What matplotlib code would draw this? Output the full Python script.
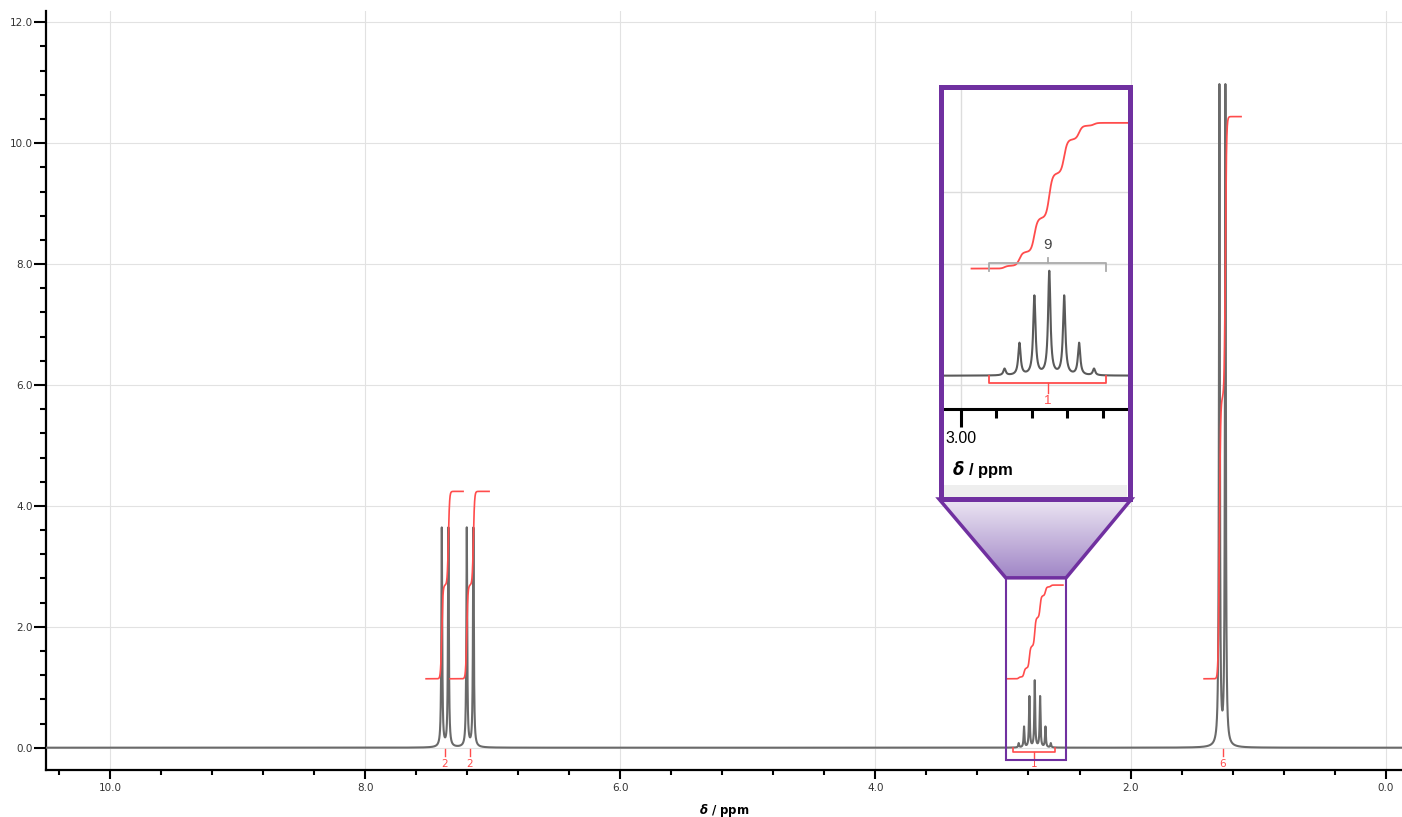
import numpy as np
import matplotlib
matplotlib.use('Agg')
import matplotlib.pyplot as plt
from matplotlib.patches import Rectangle, Polygon
from matplotlib.colors import LinearSegmentedColormap
from matplotlib.ticker import MultipleLocator, FixedLocator, FormatStrFormatter

# peak list: chemical shift (ppm) and height
peak_ppm = [7.401, 7.349, 7.205, 7.153,
            2.877, 2.835, 2.793, 2.751, 2.709, 2.667, 2.625,
            1.303, 1.256]
peak_height = [3.62, 3.62, 3.62, 3.62,
               0.07, 0.34, 0.84, 1.10, 0.84, 0.34, 0.07,
               10.9, 10.9]
line_hwhm = 0.004

# integrals: region (ppm, high -> low), proton count, label position
integral_start = [7.524, 7.336, 2.97, 1.423]
integral_end = [7.234, 7.030, 2.53, 1.133]
integral_nh = [2, 2, 1, 6]
integral_label_ppm = [7.379, 7.183, 2.755, 1.278]
bracket_span = [None, None, (2.921, 2.592), None]
integral_base = 1.14
height_per_h = 1.55
int_width = 0.009

# region shown in the magnified box
zoom_ppm = (2.978, 2.505)
zoom_int = (-0.20, 2.81)

purple = '#7030a0'
red = '#ff4c4c'
W, H = 1402, 817


def spectrum(x):
    y = np.zeros_like(x)
    for p, h in zip(peak_ppm, peak_height):
        y += h * line_hwhm**2 / ((x - p)**2 + line_hwhm**2)
    return y


def integral_curve(start, end, nh):
    # running integral over the region, each line as a smoothed step
    x = np.linspace(start, end, 600)
    f = np.zeros_like(x)
    for p, h in zip(peak_ppm, peak_height):
        if end <= p <= start:
            f += h * 0.5 * (1 + np.tanh((p - x) / int_width))
    f = (f - f[0]) / (f[-1] - f[0])
    return x, integral_base + nh * height_per_h * f


def px_rect(x0, y0, x1, y1):
    # pixel box (y downwards) -> figure fraction
    return [x0 / W, 1 - y1 / H, (x1 - x0) / W, (y1 - y0) / H]


ppm = np.linspace(10.6, -0.2, 80000)
spec = spectrum(ppm)

fig = plt.figure(figsize=(W / 100, H / 100), dpi=100)
ax = fig.add_axes(px_rect(45.7, 11, W, 770))

ax.plot(ppm, spec, color='#6a6a6a', lw=1.5, zorder=3)

for s, e, nh, lp, br in zip(integral_start, integral_end, integral_nh,
                             integral_label_ppm, bracket_span):
    xi, yi = integral_curve(s, e, nh)
    ax.plot(xi, yi, color=red, lw=1.2, zorder=4)
    if br is not None:
        ax.plot([br[0], br[0], br[1], br[1]], [0.0, -0.07, -0.07, 0.0],
                color=red, lw=1.2, zorder=4)
        ax.plot([lp, lp], [-0.07, -0.17], color=red, lw=1.0, zorder=4)
    else:
        ax.plot([lp, lp], [-0.02, -0.13], color=red, lw=1.0, zorder=4)
    ax.text(lp, -0.27, str(nh), ha='center', va='center', fontsize=7.5,
            color=red, zorder=4)

ax.add_patch(Rectangle((zoom_ppm[1], zoom_int[0]), zoom_ppm[0] - zoom_ppm[1],
                       zoom_int[1] - zoom_int[0], fill=False, ec=purple,
                       lw=1.5, zorder=6))

ax.set_xlim(10.507, -0.129)
ax.set_ylim(-0.369, 12.187)
ax.xaxis.set_major_locator(MultipleLocator(2))
ax.xaxis.set_minor_locator(MultipleLocator(0.4))
ax.yaxis.set_major_locator(MultipleLocator(2))
ax.yaxis.set_minor_locator(MultipleLocator(0.4))
ax.xaxis.set_major_formatter(FormatStrFormatter('%.1f'))
ax.yaxis.set_major_formatter(FormatStrFormatter('%.1f'))
ax.tick_params(axis='x', which='major', length=6.5, width=1.5, pad=3,
               labelsize=7.5, labelcolor='#333333')
ax.tick_params(axis='x', which='minor', length=3.6, width=1.5)
ax.tick_params(axis='y', which='major', length=8.6, width=1.5, pad=0.5,
               labelsize=7.5, labelcolor='#333333')
ax.tick_params(axis='y', which='minor', length=4.3, width=1.5)
ax.grid(True, which='major', color='#e2e2e2', lw=0.8)
ax.set_axisbelow(True)
for side in ['top', 'right']:
    ax.spines[side].set_visible(False)
for side in ['left', 'bottom']:
    ax.spines[side].set_linewidth(1.6)
ax.set_xlabel(r'$\boldsymbol{\delta}$ / ppm', fontsize=8.5, fontweight='bold',
              labelpad=6)

narrow = ['Liberation Sans', 'DejaVu Sans']

# white backing for the magnified view
back = fig.add_axes([0, 0, 1, 1], zorder=1)
back.set_xlim(0, W)
back.set_ylim(H, 0)
back.axis('off')
back.add_patch(Rectangle((941, 86.5), 188.5, 412, fc='white', ec='none'))
back.add_patch(Rectangle((943, 485), 184, 12, fc='#eeeeee', ec='none'))
back.text(952, 469, r'$\boldsymbol{\delta}$ / ppm', ha='left', va='center',
          fontsize=12, fontweight='bold', family=narrow)

# magnified septet
ins = fig.add_axes(px_rect(941, 86.5, 1129.5, 409), zorder=2)
ins.plot(ppm, spec, color='#5a5a5a', lw=1.5, zorder=3)
xi, yi = integral_curve(integral_start[2], integral_end[2], integral_nh[2])
ins.plot(xi, yi, color=red, lw=1.3, zorder=4)
b0, b1 = bracket_span[2]
lp = integral_label_ppm[2]
ins.plot([b0, b0, b1, b1], [0.0, -0.075, -0.075, 0.0], color=red, lw=1.3,
         zorder=4)
ins.plot([lp, lp], [-0.075, -0.18], color=red, lw=1.0, zorder=4)
ins.text(lp, -0.27, str(integral_nh[2]), ha='center', va='center', fontsize=9.5,
         color=red, family=narrow, zorder=4)
ins.plot([b0, b0, b1, b1], [1.11, 1.2, 1.2, 1.11], color='#aaaaaa', lw=1.3,
         zorder=4)
ins.plot([lp, lp], [1.2, 1.25], color='#aaaaaa', lw=1.3, zorder=4)
ins.text(lp, 1.39, '9', ha='center', va='center', fontsize=11,
         color='#444444', family=narrow, zorder=4)
for gy in [1.957, 1.185, -0.099]:
    ins.axhline(gy, color='#dddddd', lw=1.0, zorder=1)
ins.axvline(3.0, color='#dddddd', lw=1.0, zorder=1)

ins.set_xlim(3.056, 2.525)
ins.set_ylim(-0.354, 3.077)
ins.xaxis.set_major_locator(FixedLocator([3.0]))
ins.xaxis.set_minor_locator(FixedLocator([2.9, 2.8, 2.7, 2.6]))
ins.xaxis.set_major_formatter(FormatStrFormatter('%.2f'))
ins.set_yticks([])
ins.tick_params(axis='x', which='major', length=12.7, width=2.2, pad=3.2,
                labelsize=11.5)
ins.tick_params(axis='x', which='minor', length=6.7, width=2.2)
for lab in ins.get_xticklabels():
    lab.set_family(narrow)
for side in ['top', 'right', 'left']:
    ins.spines[side].set_visible(False)
ins.spines['bottom'].set_linewidth(2.2)

# frame, connector and gradient
front = fig.add_axes([0, 0, 1, 1], zorder=3)
front.set_xlim(0, W)
front.set_ylim(H, 0)
front.axis('off')


def to_px(x, y):
    dx, dy = ax.transData.transform((x, y))
    return dx, H - dy


zl = to_px(zoom_ppm[0], zoom_int[1])
zr = to_px(zoom_ppm[1], zoom_int[1])
trap_pts = [(939, 499), (1131.5, 499), zr, zl]
trap = Polygon(trap_pts, closed=True, fc='none', ec=purple, lw=2.5, zorder=3)
front.add_patch(trap)
cmap = LinearSegmentedColormap.from_list('fade', ['#ece6f3', '#a085c6'])
grad = np.linspace(0, 1, 200).reshape(-1, 1)
img = front.imshow(grad, cmap=cmap, aspect='auto',
                   extent=[939, 1131.5, zl[1], 499], zorder=2)
img.set_clip_path(Polygon(trap_pts, closed=True, transform=front.transData))
front.add_patch(Rectangle((941, 86.5), 188.5, 412, fill=False, ec=purple,
                          lw=3.6, zorder=4))
front.set_xlim(0, W)
front.set_ylim(H, 0)

fig.savefig('out.png', dpi=100)
